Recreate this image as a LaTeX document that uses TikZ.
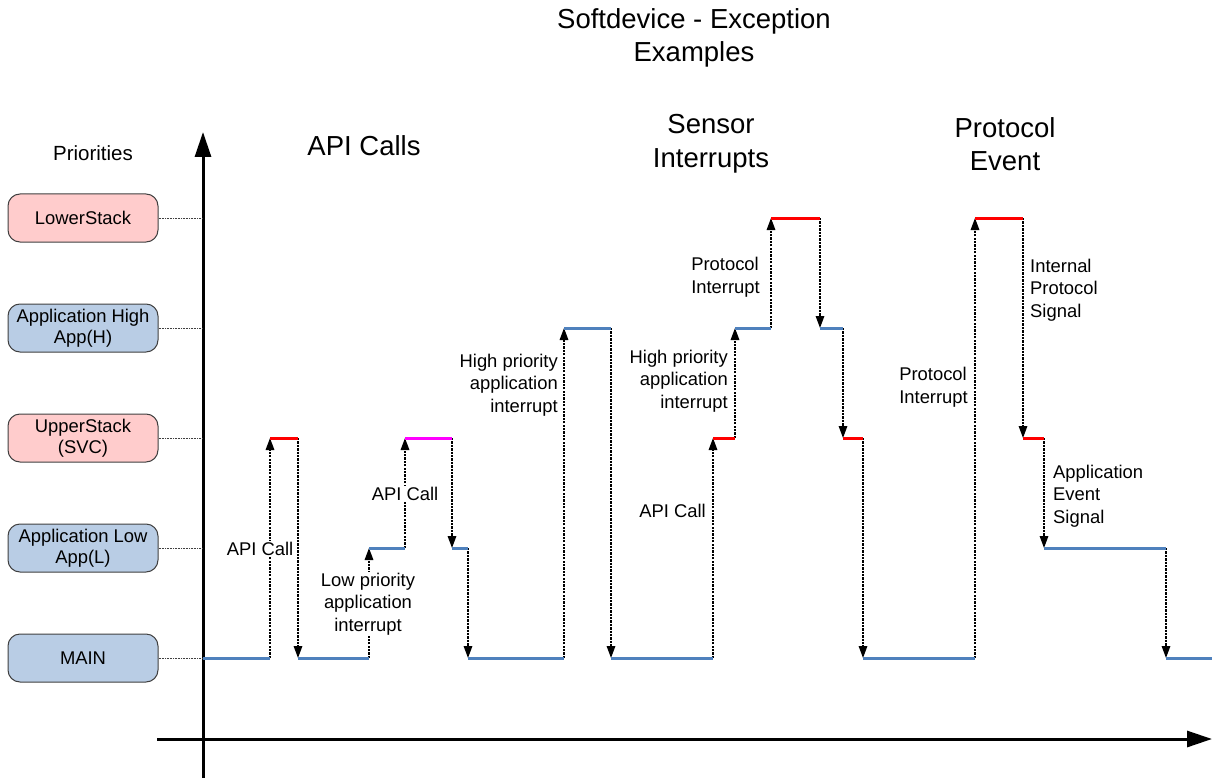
\documentclass[tikz,border=0pt]{standalone}
\usepackage{fontspec}
\setmainfont{Liberation Sans}
\usetikzlibrary{arrows.meta}
\definecolor{lvlblue}{HTML}{4F81BD}
\definecolor{lvlred}{HTML}{FF0000}
\definecolor{lvlmag}{HTML}{FF00FF}
\definecolor{boxblue}{HTML}{B9CDE5}
\definecolor{boxpink}{HTML}{FFCCCC}
\definecolor{boxline}{HTML}{404040}

\begin{document}
\begin{tikzpicture}[x=1pt,y=-1pt,
  prio/.style={draw=boxline, line width=1pt, rounded corners=12pt,
    minimum width=150pt, minimum height=48pt, align=center, inner sep=0pt,
    font=\fontsize{18.4}{21}\selectfont},
  apprio/.style={prio, fill=boxblue},
  stackprio/.style={prio, fill=boxpink},
  guide/.style={densely dotted, line width=0.6pt, black!75},
  axis/.style={line width=3pt, -{Triangle[length=25pt,width=16pt]}},
  lvl/.style={line width=3pt},
  hop/.style={line width=1.6pt, dash pattern=on 2.3pt off 1.1pt,
    -{Triangle[length=12pt,width=8.5pt]}},
  lbl/.style={inner sep=0pt, font=\fontsize{18.4}{22.5}\selectfont},
  head/.style={inner sep=0pt, align=center, font=\fontsize{27.5}{33.5}\selectfont}
]
\useasboundingbox (0,0) rectangle (1212,778);

% axes
\coordinate (ybot) at (203,778);
\coordinate (ytop) at (203,132);
\coordinate (xl) at (157,739);
\coordinate (xr) at (1212,739);
\draw[axis] (ybot) -- (ytop);
\draw[axis] (xl) -- (xr);

% title and section headers
\node[head] (title) at (694,38) {Softdevice - Exception\\Examples};
\node[head] (hapi) at (364,146) {API Calls};
\node[head] (hsens) at (711,144) {Sensor\\Interrupts};
\node[head] (hprot) at (1005,144) {Protocol\\Event};

% priority levels
\node[font=\fontsize{20.5}{24}\selectfont, inner sep=0pt] (prios) at (93,153) {Priorities};
\node[stackprio] (lower) at (83,218) {LowerStack};
\node[apprio] (apph) at (83,328) {Application High\\App(H)};
\node[stackprio] (upper) at (83,438) {UpperStack\\(SVC)};
\node[apprio] (appl) at (83,548) {Application Low\\App(L)};
\node[apprio] (main) at (83,658) {MAIN};

\coordinate (glower) at (203,218);
\coordinate (gapph) at (203,328);
\coordinate (gupper) at (203,438);
\coordinate (gappl) at (203,548);
\coordinate (gmain) at (203,658);
\foreach \b/\g in {lower/glower, apph/gapph, upper/gupper, appl/gappl, main/gmain}
  \draw[guide] (\b.east) -- (\g);

% execution trace points
\foreach \n/\x/\y in {0/203/658, 1/270/658, 2/270/438, 3/298/438, 4/298/658,
  5/369/658, 6/369/548, 7/405/548, 8/405/438, 9/452/438, 10/452/548,
  11/468/548, 12/468/658, 13/564/658, 14/564/328, 15/611/328, 16/611/658,
  17/713/658, 18/713/438, 19/735/438, 20/735/328, 21/771/328, 22/771/218,
  23/820/218, 24/820/328, 25/843/328, 26/843/438, 27/863/438, 28/863/658,
  29/975/658, 30/975/218, 31/1023/218, 32/1023/438, 33/1044/438,
  34/1044/548, 35/1166/548, 36/1166/658, 37/1212/658}
  \coordinate (t\n) at (\x,\y);

% transitions between priority levels
\foreach \a/\b in {1/2, 3/4, 5/6, 7/8, 9/10, 11/12, 13/14, 15/16, 17/18,
  19/20, 21/22, 23/24, 25/26, 27/28, 29/30, 31/32, 33/34, 35/36}
  \draw[hop] (t\a) -- (t\b);

% transition labels
\node[lbl, fill=white, inner sep=1pt] (l1) at (260,549) {API Call};
\node[lbl, fill=white, inner sep=1pt, align=center] (l2) at (368,604) {Low priority\\application\\interrupt};
\node[lbl, fill=white, inner sep=1pt] (l3) at (405,494) {API Call};
\node[lbl, align=right, anchor=east] (l4) at (558,385) {High priority\\application\\interrupt};
\node[lbl, anchor=east] (l5) at (706,511) {API Call};
\node[lbl, align=right, anchor=east] (l6) at (728,381) {High priority\\application\\interrupt};
\node[lbl, align=left, anchor=east] (l7) at (760,277) {Protocol\\Interrupt};
\node[lbl, align=left, anchor=east] (l8) at (968,387) {Protocol\\Interrupt};
\node[lbl, align=left, anchor=west] (l9) at (1030,290) {Internal\\Protocol\\Signal};
\node[lbl, align=left, anchor=west] (l10) at (1053,496) {Application\\Event\\Signal};

% time spent at each level
\foreach \a/\b/\c in {0/1/lvlblue, 2/3/lvlred, 4/5/lvlblue, 6/7/lvlblue,
  8/9/lvlmag, 10/11/lvlblue, 12/13/lvlblue, 14/15/lvlblue, 16/17/lvlblue,
  18/19/lvlred, 20/21/lvlblue, 22/23/lvlred, 24/25/lvlblue, 26/27/lvlred,
  28/29/lvlblue, 30/31/lvlred, 32/33/lvlred, 34/35/lvlblue, 36/37/lvlblue}
  \draw[lvl, \c] (t\a) -- (t\b);
\end{tikzpicture}
\end{document}
